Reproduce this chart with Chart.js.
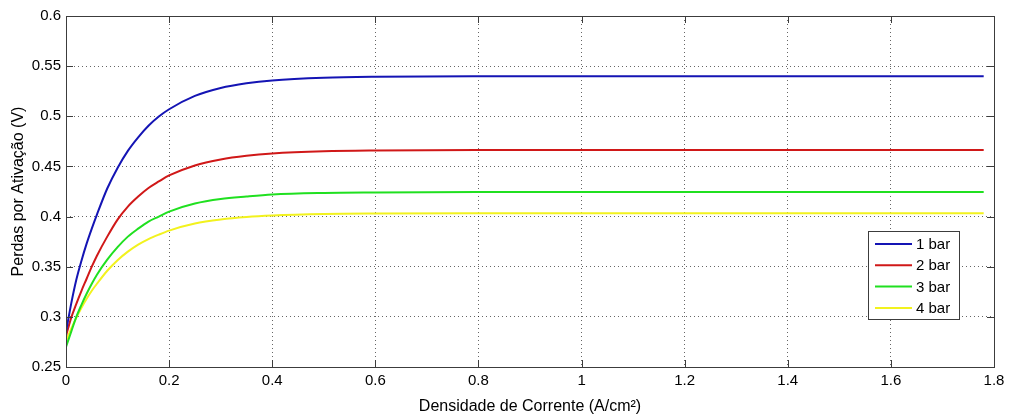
<!DOCTYPE html>
<html>
<head>
<meta charset="utf-8">
<script src="https://cdn.jsdelivr.net/npm/chart.js@4/dist/chart.umd.min.js"></script>
<style>
  html, body { margin: 0; padding: 0; background: #ffffff; }
  #wrap { width: 1011px; height: 418px; }
</style>
</head>
<body>
<div id="wrap"><canvas id="c" width="1011" height="418"></canvas></div>
<script>
// Current density samples (A/cm²)
const densidade = [0, 0.01, 0.02, 0.03, 0.04, 0.05, 0.06, 0.08, 0.10, 0.12, 0.14, 0.16, 0.18, 0.20,
                   0.25, 0.30, 0.35, 0.40, 0.50, 0.60, 0.80, 1.00, 1.20, 1.40, 1.60, 1.78];

// Activation losses (V) for each pressure
const perdas1bar = [0.285, 0.313, 0.337, 0.356, 0.373, 0.388, 0.402, 0.428, 0.4485, 0.4655, 0.479, 0.4905, 0.4997, 0.507,
                    0.5203, 0.5282, 0.5329, 0.5358, 0.5385, 0.5395, 0.540, 0.540, 0.540, 0.540, 0.540, 0.540];
const perdas2bar = [0.281, 0.299, 0.313, 0.326, 0.338, 0.350, 0.361, 0.380, 0.397, 0.410, 0.420, 0.4285, 0.435, 0.441,
                    0.451, 0.457, 0.4607, 0.463, 0.4652, 0.466, 0.4665, 0.4665, 0.4665, 0.4665, 0.4665, 0.4665];
const perdas3bar = [0.270, 0.285, 0.300, 0.312, 0.323, 0.333, 0.342, 0.357, 0.3695, 0.380, 0.388, 0.395, 0.400, 0.405,
                    0.413, 0.4175, 0.420, 0.422, 0.4235, 0.424, 0.4245, 0.4245, 0.4245, 0.4245, 0.4245, 0.4245];
const perdas4bar = [0.276, 0.288, 0.299, 0.309, 0.318, 0.326, 0.333, 0.346, 0.3565, 0.365, 0.372, 0.3775, 0.382, 0.386,
                    0.393, 0.397, 0.3995, 0.401, 0.4025, 0.403, 0.4033, 0.4033, 0.4033, 0.4033, 0.4033, 0.4033];

const serieLabels = ['1 bar', '2 bar', '3 bar', '4 bar'];
const serieColors = ['#1414b4', '#d01818', '#20e020', '#f2f21e'];

// Axis ticks
const xTicks = [0, 0.2, 0.4, 0.6, 0.8, 1.0, 1.2, 1.4, 1.6, 1.8];
const yTicks = [0.25, 0.3, 0.35, 0.4, 0.45, 0.5, 0.55, 0.6];

const FONT = "'Liberation Sans', Arial, Helvetica, sans-serif";
const series = [perdas1bar, perdas2bar, perdas3bar, perdas4bar];

const datasets = series.map((vals, i) => ({
  label: serieLabels[i],
  data: densidade.map((x, k) => ({ x: x, y: vals[k] })),
  borderColor: serieColors[i],
  backgroundColor: serieColors[i],
  borderWidth: 2,
  pointRadius: 0,
  cubicInterpolationMode: 'monotone',
  fill: false
}));

function fmt(v) { return String(Math.round(v * 100) / 100); }

// MATLAB-style box with inward tick marks on all four sides
const boxPlugin = {
  id: 'box',
  afterDatasetsDraw(chart) {
    const { ctx, chartArea: a, scales } = chart;
    ctx.save();
    ctx.strokeStyle = '#3c3c3c';
    ctx.lineWidth = 1;
    ctx.beginPath();
    const tl = 7;
    scales.x.ticks.forEach(t => {
      const px = Math.round(scales.x.getPixelForValue(t.value)) + 0.5;
      ctx.moveTo(px, a.bottom); ctx.lineTo(px, a.bottom - tl);
      ctx.moveTo(px, a.top); ctx.lineTo(px, a.top + tl);
    });
    scales.y.ticks.forEach(t => {
      const py = Math.round(scales.y.getPixelForValue(t.value)) + 0.5;
      ctx.moveTo(a.left, py); ctx.lineTo(a.left + tl, py);
      ctx.moveTo(a.right, py); ctx.lineTo(a.right - tl, py);
    });
    ctx.stroke();
    ctx.strokeRect(Math.round(a.left) + 0.5, Math.round(a.top) + 0.5,
                   Math.round(a.right - a.left), Math.round(a.bottom - a.top));
    ctx.restore();
  }
};

// Legend box in the lower right of the plot
const legendPlugin = {
  id: 'boxLegend',
  afterDatasetsDraw(chart) {
    const { ctx } = chart;
    const x0 = 868, y0 = 231, w = 91, h = 88;
    ctx.save();
    ctx.fillStyle = '#ffffff';
    ctx.fillRect(x0, y0, w, h);
    ctx.strokeStyle = '#3c3c3c';
    ctx.lineWidth = 1;
    ctx.strokeRect(x0 + 0.5, y0 + 0.5, w, h);
    ctx.font = '15px ' + FONT;
    ctx.textBaseline = 'middle';
    ctx.fillStyle = '#000000';
    chart.data.datasets.forEach((ds, i) => {
      const yy = y0 + 13 + i * 21.3;
      ctx.strokeStyle = ds.borderColor;
      ctx.lineWidth = 2;
      ctx.beginPath();
      ctx.moveTo(x0 + 7, yy); ctx.lineTo(x0 + 44, yy);
      ctx.stroke();
      ctx.fillText(ds.label, x0 + 48, yy + 1);
    });
    ctx.restore();
  }
};

new Chart(document.getElementById('c'), {
  type: 'line',
  data: { datasets: datasets },
  options: {
    responsive: false,
    animation: false,
    events: [],
    layout: { padding: { top: 16, right: 17, left: 0, bottom: 0 } },
    plugins: { legend: { display: false }, tooltip: { enabled: false } },
    scales: {
      x: {
        type: 'linear',
        min: 0, max: 1.8,
        afterBuildTicks: s => { s.ticks = xTicks.map(v => ({ value: v })); },
        afterFit: s => { s.height = 51; },
        grid: {
          drawTicks: false,
          color: ctx => (ctx.tick && (ctx.tick.value === 0 || ctx.tick.value === 1.8)) ? 'rgba(0,0,0,0)' : 'rgba(0,0,0,0.6)',
          lineWidth: 1
        },
        border: { display: false, dash: [1, 3] },
        ticks: {
          padding: 5,
          color: '#000000',
          font: { family: FONT, size: 15 },
          maxRotation: 0,
          callback: v => fmt(v)
        },
        title: {
          display: true,
          text: 'Densidade de Corrente (A/cm²)',
          color: '#000000',
          font: { family: FONT, size: 16 },
          padding: { top: 0, bottom: 2 }
        }
      },
      y: {
        type: 'linear',
        min: 0.25, max: 0.6,
        afterBuildTicks: s => { s.ticks = yTicks.map(v => ({ value: v })); },
        afterFit: s => { s.width = 66; },
        grid: {
          drawTicks: false,
          color: ctx => (ctx.tick && (ctx.tick.value === 0.25 || ctx.tick.value === 0.6)) ? 'rgba(0,0,0,0)' : 'rgba(0,0,0,0.6)',
          lineWidth: 1
        },
        border: { display: false, dash: [1, 3] },
        ticks: {
          padding: 5,
          color: '#000000',
          font: { family: FONT, size: 15 },
          callback: v => fmt(v)
        },
        title: {
          display: true,
          text: 'Perdas por Ativação (V)',
          color: '#000000',
          font: { family: FONT, size: 16 },
          padding: { top: 9, bottom: 0 }
        }
      }
    }
  },
  plugins: [boxPlugin, legendPlugin]
});
</script>
</body>
</html>
